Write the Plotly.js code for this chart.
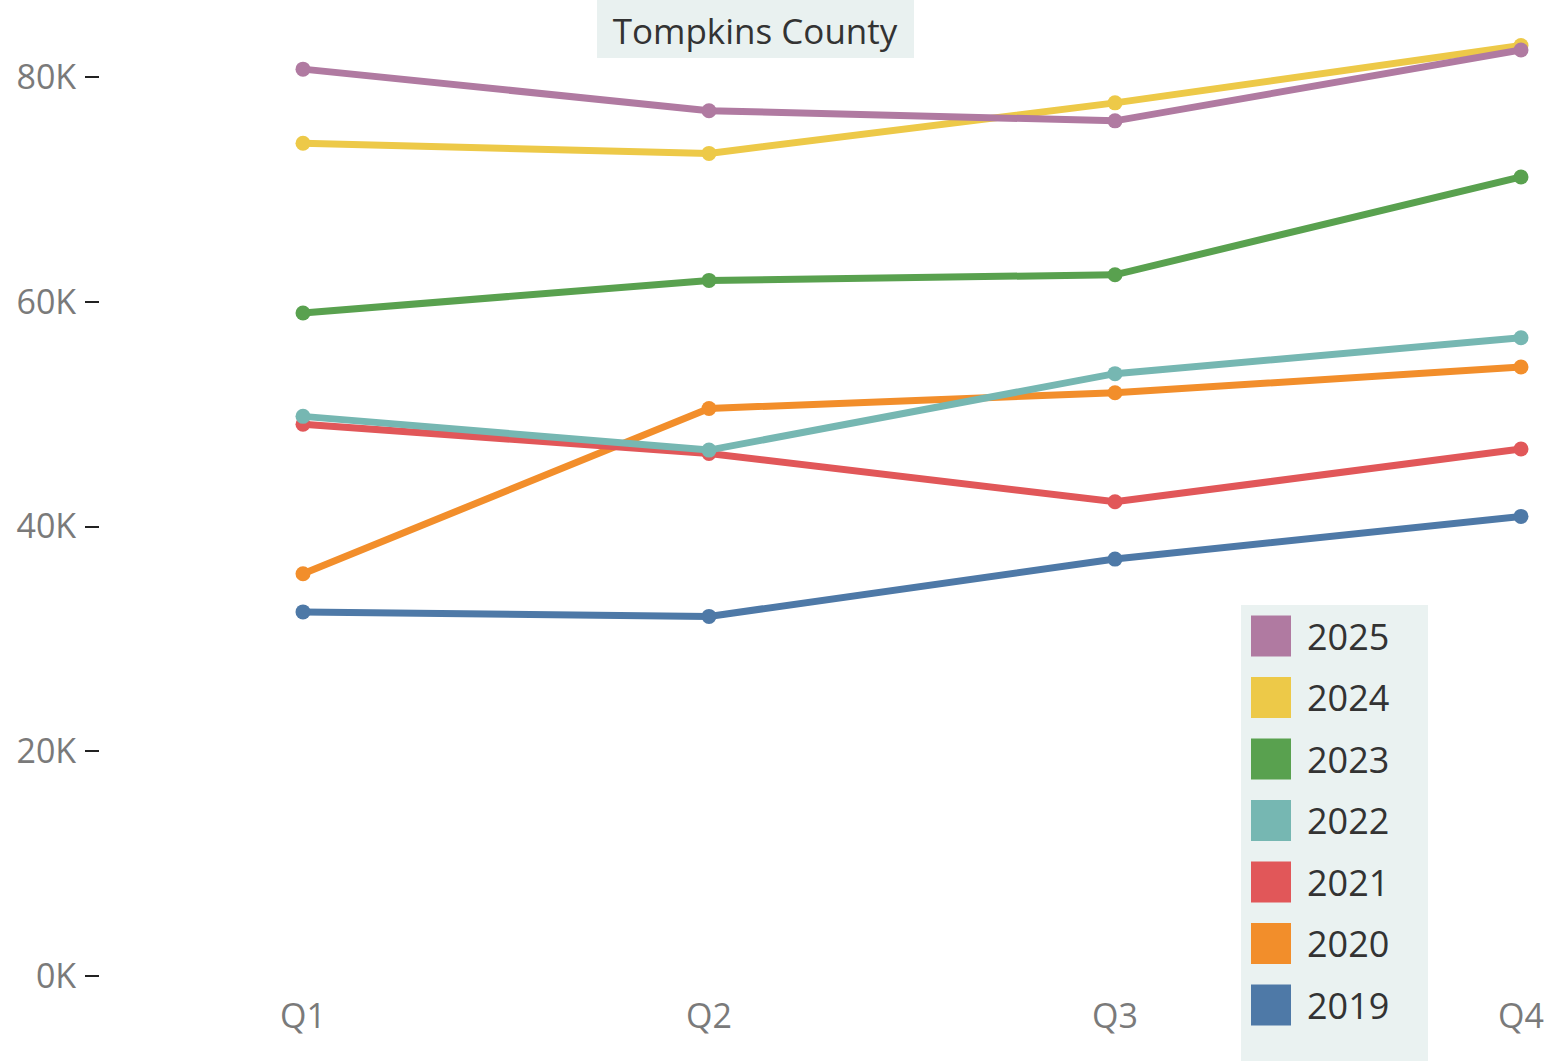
<!DOCTYPE html>
<html>
<head>
<meta charset="utf-8">
<script src="https://cdn.plot.ly/plotly-3.0.1.min.js"></script>
<style>html,body{margin:0;padding:0;background:#fff;}#chart{width:1545px;height:1061px;}</style>
</head>
<body>
<div id="chart"></div>
<script>
// ---- data ----
var quarters = ["Q1", "Q2", "Q3", "Q4"];
var years = ["2025", "2024", "2023", "2022", "2021", "2020", "2019"];
var v2025 = [80700, 77000, 76100, 82400];
var v2024 = [74100, 73200, 77700, 82800];
var v2023 = [59000, 61900, 62400, 71100];
var v2022 = [49800, 46800, 53600, 56800];
var v2021 = [49100, 46500, 42200, 46900];
var v2020 = [35800, 50500, 51900, 54200];
var v2019 = [32400, 32000, 37100, 40900];
var yTickVals = [0, 20000, 40000, 60000, 80000];
var yTickText = ["0K", "20K", "40K", "60K", "80K"];
var chartTitle = "Tompkins County";

var seriesValues = {"2025": v2025, "2024": v2024, "2023": v2023, "2022": v2022, "2021": v2021, "2020": v2020, "2019": v2019};
var colors = {"2025": "#B07AA1", "2024": "#EDC948", "2023": "#59A14F", "2022": "#76B7B2", "2021": "#E15759", "2020": "#F28E2B", "2019": "#4E79A7"};

// ---- geometry ----
var W = 1545, H = 1061;
var M = {l: 100, r: 24, t: 0, b: 69};
var plotW = W - M.l - M.r, plotH = H - M.t - M.b;
function px(x) { return (x - M.l) / plotW; }
function py(y) { return (H - M.b - y) / plotH; }

var FONT = '"Open Sans", "Noto Sans", sans-serif';

// draw oldest first so newest on top
var traces = years.slice().reverse().map(function (yr) {
  return {
    type: "scatter",
    mode: "lines+markers",
    name: yr,
    x: quarters,
    y: seriesValues[yr],
    line: {color: colors[yr], width: 7},
    marker: {color: colors[yr], size: 15},
    cliponaxis: false,
    showlegend: false,
    hoverinfo: "x+y+name"
  };
});

var shapes = [];
var annotations = [];
// title background
shapes.push({type: "rect", xref: "paper", yref: "paper", layer: "below",
  x0: px(597), x1: px(914), y0: py(58), y1: py(-2),
  fillcolor: "#E9F1F0", line: {width: 0}});
// legend background
shapes.push({type: "rect", xref: "paper", yref: "paper", layer: "above",
  x0: px(1241), x1: px(1428), y0: py(1061), y1: py(605),
  fillcolor: "#EAF2F1", line: {width: 0}});
years.forEach(function (yr, i) {
  var cy = 636 + i * 61.5;
  shapes.push({type: "rect", xref: "paper", yref: "paper", layer: "above",
    x0: px(1251), x1: px(1291), y0: py(cy + 20.5), y1: py(cy - 20.5),
    fillcolor: colors[yr], line: {width: 0}});
  annotations.push({xref: "paper", yref: "paper", x: px(1305), y: py(cy),
    xanchor: "left", yanchor: "middle", showarrow: false, text: yr,
    font: {family: FONT, size: 36, color: "#333333"}});
});

var layout = {
  width: W, height: H,
  margin: M,
  paper_bgcolor: "#ffffff",
  plot_bgcolor: "#ffffff",
  showlegend: false,
  title: {text: chartTitle, x: 755 / W, xanchor: "center", y: 1 - 32 / H, yanchor: "middle",
    font: {family: FONT, size: 35, color: "#333333"}},
  xaxis: {
    type: "category", range: [-0.5, 3],
    showgrid: false, zeroline: false, showline: false,
    ticks: "", tickfont: {family: FONT, size: 34, color: "#7a7a7a"},
    ticklabelstandoff: 1
  },
  yaxis: {
    range: [-1424, 86852],
    tickvals: yTickVals, ticktext: yTickText,
    showgrid: false, zeroline: false, showline: false,
    ticks: "outside", ticklen: 14, tickwidth: 2, tickcolor: "#222222",
    tickfont: {family: FONT, size: 34, color: "#7a7a7a"},
    ticklabelstandoff: 2
  },
  shapes: shapes,
  annotations: annotations
};

Plotly.newPlot("chart", traces, layout, {displayModeBar: false, staticPlot: true});
</script>
</body>
</html>
